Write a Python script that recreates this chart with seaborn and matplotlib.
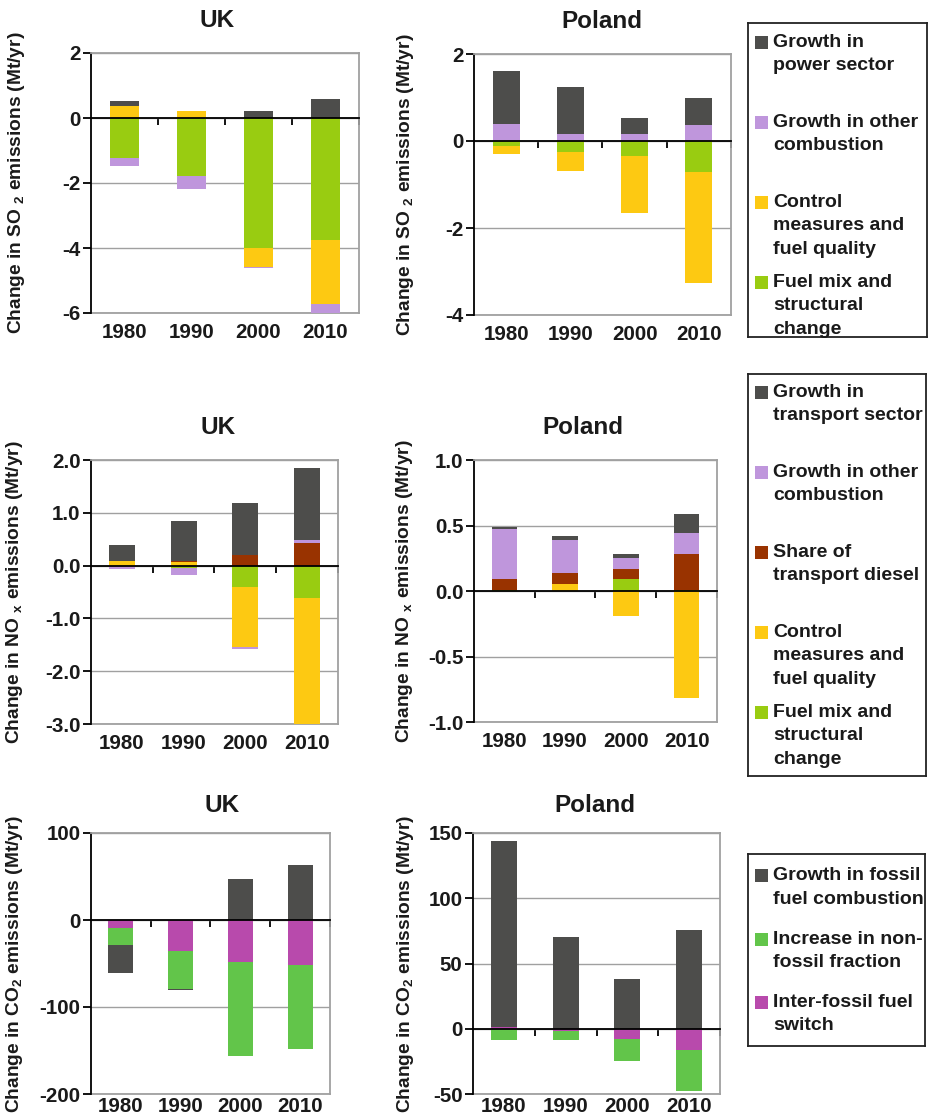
import numpy as np
import seaborn as sns
import matplotlib.pyplot as plt
from matplotlib.patches import Rectangle

# categories
years = ['1980', '1990', '2000', '2010']

# SO2 (Mt/yr) - UK
so2_uk_fuelmix = [-1.22, -1.78, -4.00, -3.75]
so2_uk_control = [0.36, 0.21, -0.58, -1.98]
so2_uk_other = [-0.25, -0.40, -0.05, -0.27]
so2_uk_power = [0.16, 0.0, 0.21, 0.58]
# SO2 (Mt/yr) - Poland
so2_pl_fuelmix = [-0.12, -0.26, -0.35, -0.72]
so2_pl_control = [-0.18, -0.43, -1.30, -2.54]
so2_pl_other = [0.38, 0.15, 0.15, 0.36]
so2_pl_power = [1.24, 1.08, 0.39, 0.64]

# NOx (Mt/yr) - UK
nox_uk_fuelmix = [0.0, -0.04, -0.41, -0.62]
nox_uk_control = [0.08, 0.06, -1.13, -2.45]
nox_uk_diesel = [0.0, 0.02, 0.21, 0.43]
nox_uk_other = [-0.06, -0.14, -0.04, 0.05]
nox_uk_transport = [0.31, 0.77, 0.97, 1.37]
# NOx (Mt/yr) - Poland
nox_pl_fuelmix = [0.01, 0.0, 0.095, 0.01]
nox_pl_control = [0.0, 0.05, -0.19, -0.82]
nox_pl_diesel = [0.085, 0.09, 0.07, 0.27]
nox_pl_other = [0.375, 0.25, 0.09, 0.16]
nox_pl_transport = [0.015, 0.03, 0.03, 0.15]

# CO2 (Mt/yr) - UK
co2_uk_switch = [-9, -36, -48, -52]
co2_uk_nonfossil = [-20, -43, -108, -96]
co2_uk_fossil = [-32, -2, 47, 63]
# CO2 (Mt/yr) - Poland
co2_pl_switch = [1.5, -2, -7.5, -16]
co2_pl_nonfossil = [-9, -6.4, -17.5, -31.5]
co2_pl_fossil = [142, 70, 38, 76]

# colours
DARK = '#4d4d4b'
PURPLE = '#bf96dc'
YELLOW = '#fdc912'
GREEN = '#99cc11'
RED = '#993300'
CGREEN = '#62c54a'
MAGENTA = '#b84aac'
GRID = '#a0a0a0'

sns.set_style('white')
plt.rcParams['font.family'] = ['Liberation Sans', 'DejaVu Sans']
plt.rcParams['font.weight'] = 'bold'
plt.rcParams['axes.unicode_minus'] = False
plt.rcParams['mathtext.fontset'] = 'custom'
plt.rcParams['mathtext.rm'] = 'Liberation Sans:bold'
plt.rcParams['mathtext.it'] = 'Liberation Sans:bold'
plt.rcParams['mathtext.bf'] = 'Liberation Sans:bold'

W, H = 929, 1120
fig = plt.figure(figsize=(W / 100, H / 100), dpi=100)


def px_axes(l, t, r, b):
    return fig.add_axes([l / W, 1 - b / H, (r - l) / W, (b - t) / H])


def stacked_panel(box, series, colors, ylim, step, fmt, title, title_x,
                  title_pad, ylabel, label_x, xpad):
    l, t, r, b = box
    ax = px_axes(l, t, r, b)
    pos = np.zeros(len(years))
    neg = np.zeros(len(years))
    for vals, col in zip(series, colors):
        v = np.array(vals, dtype=float)
        bottom = np.where(v >= 0, pos, neg)
        sns.barplot(x=years, y=v, bottom=bottom, color=col, width=0.42,
                    saturation=1, errorbar=None, linewidth=0, ax=ax)
        pos += np.clip(v, 0, None)
        neg += np.clip(v, None, 0)

    ax.set_xlim(-0.5, 3.5)
    ax.set_ylim(*ylim)
    ax.set_yticks(np.arange(ylim[0], ylim[1] + step / 2, step))
    ax.yaxis.set_major_formatter(plt.FormatStrFormatter(fmt))
    ax.yaxis.grid(True, color=GRID, lw=1)
    ax.set_axisbelow(True)

    # category axis drawn at zero with boundary ticks
    ax.spines['bottom'].set_position(('data', 0))
    ax.spines['bottom'].set_color('black')
    ax.spines['bottom'].set_linewidth(1.3)
    ax.spines['left'].set_color('black')
    ax.spines['left'].set_linewidth(1.3)
    for s in ['top', 'right']:
        ax.spines[s].set_color(GRID)
        ax.spines[s].set_linewidth(1.3)
    ax.set_xticks([0.5, 1.5, 2.5, 3.5])
    ax.set_xticklabels([])
    ax.tick_params(axis='x', bottom=True, direction='out', length=5,
                   width=1.3, color='black')
    ax.tick_params(axis='y', left=True, direction='out', length=6,
                   width=1.3, color='black', pad=1.5, labelsize=14.8,
                   labelcolor='#1a1a1a')
    ax.set_xlabel('')

    sec = ax.secondary_xaxis(0)
    sec.set_xticks(range(len(years)), labels=years)
    sec.tick_params(length=0, pad=xpad, labelsize=14.8, labelcolor='#1a1a1a')
    sec.spines['bottom'].set_color(GRID)
    sec.spines['bottom'].set_linewidth(1.3)

    xc = (title_x - l) / (r - l)
    ax.set_title(title, fontsize=17.5, fontweight='bold', x=xc, pad=title_pad,
                 color='#1a1a1a')
    ax.set_ylabel(ylabel, fontsize=13.8, fontweight='bold', va='center',
                  color='#1a1a1a')
    ax.yaxis.set_label_coords((label_x - l) / (r - l), 0.5)
    return ax


so2_label = 'Change in SO $_{2}$ emissions (Mt/yr)'
nox_label = 'Change in NO $_{x}$ emissions (Mt/yr)'
co2_label = 'Change in CO$_{2}$ emissions (Mt/yr)'

stacked_panel((91, 53, 359, 313),
              [so2_uk_fuelmix, so2_uk_control, so2_uk_other, so2_uk_power],
              [GREEN, YELLOW, PURPLE, DARK], (-6, 2), 2, '%d', 'UK', 217, 19,
              so2_label, 17, 7)
stacked_panel((474, 54, 731, 315),
              [so2_pl_fuelmix, so2_pl_control, so2_pl_other, so2_pl_power],
              [GREEN, YELLOW, PURPLE, DARK], (-4, 2), 2, '%d', 'Poland', 602, 19,
              so2_label, 406, 7)
stacked_panel((91, 460, 338, 724),
              [nox_uk_fuelmix, nox_uk_control, nox_uk_diesel, nox_uk_other,
               nox_uk_transport],
              [GREEN, YELLOW, RED, PURPLE, DARK], (-3, 2), 1, '%.1f', 'UK', 218, 19,
              nox_label, 15, 7)
stacked_panel((474, 460, 717, 722),
              [nox_pl_fuelmix, nox_pl_control, nox_pl_diesel, nox_pl_other,
               nox_pl_transport],
              [GREEN, YELLOW, RED, PURPLE, DARK], (-1, 1), 0.5, '%.1f', 'Poland',
              583, 19, nox_label, 405, 7)
stacked_panel((91, 833, 330, 1094),
              [co2_uk_switch, co2_uk_nonfossil, co2_uk_fossil],
              [MAGENTA, CGREEN, DARK], (-200, 100), 100, '%d', 'UK', 222, 15,
              co2_label, 15, 2.5)
stacked_panel((473, 833, 720, 1094),
              [co2_pl_switch, co2_pl_nonfossil, co2_pl_fossil],
              [MAGENTA, CGREEN, DARK], (-50, 150), 50, '%d', 'Poland', 595, 15,
              co2_label, 405, 2.5)


def legend_box(box, labels, colors, first, step):
    l, t, r, b = box
    lax = px_axes(l, t, r, b)
    lax.set_xlim(0, r - l)
    lax.set_ylim(b - t, 0)
    lax.set_xticks([])
    lax.set_yticks([])
    for s in lax.spines.values():
        s.set_color('#222222')
        s.set_linewidth(1.3)
    for i, (lab, col) in enumerate(zip(labels, colors)):
        y = first + i * step
        lax.add_patch(Rectangle((7, y - 6), 13, 13, color=col, lw=0))
        lax.text(25, y - 8, lab, va='top', ha='left', fontsize=14,
                 fontweight='bold', linespacing=1.5, color='#1a1a1a')


legend_box((748, 23, 927, 337),
           ['Growth in\npower sector', 'Growth in other\ncombustion',
            'Control\nmeasures and\nfuel quality',
            'Fuel mix and\nstructural\nchange'],
           [DARK, PURPLE, YELLOW, GREEN], 19, 80)
legend_box((748, 374, 926, 776),
           ['Growth in\ntransport sector', 'Growth in other\ncombustion',
            'Share of\ntransport diesel', 'Control\nmeasures and\nfuel quality',
            'Fuel mix and\nstructural\nchange'],
           [DARK, PURPLE, RED, YELLOW, GREEN], 18, 80)
legend_box((748, 854, 925, 1046),
           ['Growth in fossil\nfuel combustion', 'Increase in non-\nfossil fraction',
            'Inter-fossil fuel\nswitch'],
           [DARK, CGREEN, MAGENTA], 21, 63.5)

fig.savefig('out.png', dpi=100)
